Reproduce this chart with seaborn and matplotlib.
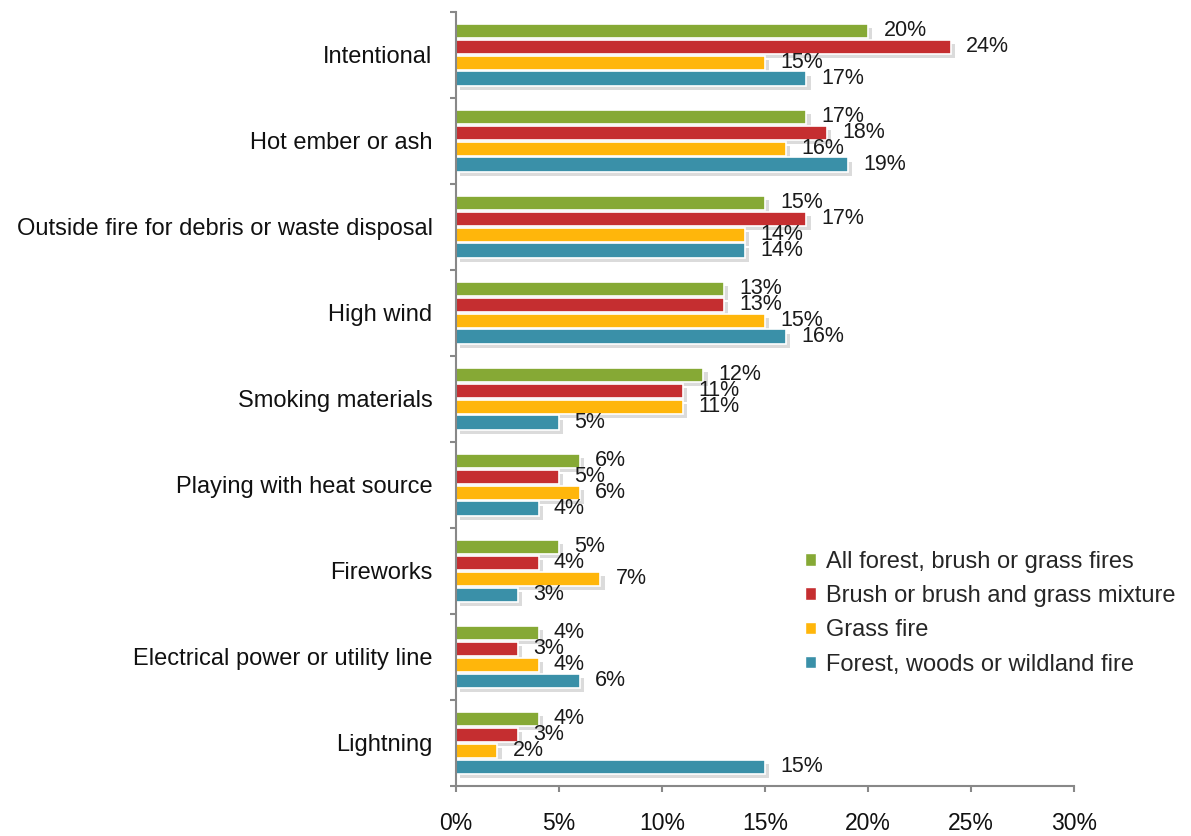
import numpy as np
import pandas as pd
import matplotlib
matplotlib.use("Agg")
import matplotlib.pyplot as plt
import matplotlib.patheffects as pe
from matplotlib.ticker import FixedLocator, PercentFormatter
import seaborn as sns

causes = ["Intentional", "Hot ember or ash", "Outside fire for debris or waste disposal",
          "High wind", "Smoking materials", "Playing with heat source", "Fireworks",
          "Electrical power or utility line", "Lightning"]
series = ["All forest, brush or grass fires", "Brush or brush and grass mixture",
          "Grass fire", "Forest, woods or wildland fire"]
all_fires = [20, 17, 15, 13, 12, 6, 5, 4, 4]
brush = [24, 18, 17, 13, 11, 5, 4, 3, 3]
grass = [15, 16, 14, 15, 11, 6, 7, 4, 2]
forest = [17, 19, 14, 16, 5, 4, 3, 6, 15]
colors = ["#86A935", "#C52E30", "#FFB60B", "#3A90A8"]

rows = []
for name, vals in zip(series, [all_fires, brush, grass, forest]):
    for c, v in zip(causes, vals):
        rows.append({"cause": c, "series": name, "pct": v})
df = pd.DataFrame(rows)

sns.set_style("white")
plt.rcParams["font.family"] = ["Liberation Sans", "DejaVu Sans"]

fig, ax = plt.subplots(figsize=(11.91, 8.36), dpi=100)
fig.subplots_adjust(left=0.383, right=0.902, top=0.986, bottom=0.06)

sns.barplot(data=df, y="cause", x="pct", hue="series", order=causes,
            hue_order=series, palette=colors, orient="h", width=0.74,
            saturation=1, ax=ax, errorbar=None)

shadow = [pe.SimplePatchShadow(offset=(3, -3), shadow_rgbFace="#888888", alpha=0.3),
          pe.Normal()]
for cont in ax.containers:
    for bar in cont:
        bar.set_edgecolor("white")
        bar.set_linewidth(1.2)
        bar.set_path_effects(shadow)
        # small gap between series bars
        h = bar.get_height()
        bar.set_y(bar.get_y() + h * 0.05)
        bar.set_height(h * 0.9)
    ax.bar_label(cont, labels=[f"{v:.0f}%" for v in cont.datavalues],
                 padding=11, fontsize=15.5, color="#1a1a1a")

ax.set_xlim(0, 30)
ax.set_ylim(len(causes) - 0.5, -0.5)
ax.xaxis.set_major_locator(FixedLocator([0, 5, 10, 15, 20, 25, 30]))
ax.xaxis.set_major_formatter(PercentFormatter(decimals=0))
ax.set_xlabel("")
ax.set_ylabel("")

ax.yaxis.set_minor_locator(FixedLocator(np.arange(-0.5, len(causes), 1)))
ax.tick_params(axis="y", which="major", length=0, labelsize=17, pad=17, labelcolor="#111111")
ax.tick_params(axis="y", which="minor", length=4.5, color="#888888", width=1.5, direction="out", left=True)
ax.tick_params(axis="x", which="major", length=4.5, color="#888888", width=1.5, direction="out",
               bottom=True, labelsize=16.5, pad=14, labelcolor="#111111")

for s in ["top", "right"]:
    ax.spines[s].set_visible(False)
for s in ["left", "bottom"]:
    ax.spines[s].set_color("#888888")
    ax.spines[s].set_linewidth(1.5)

ax.legend(loc="lower left", bbox_to_anchor=(0.530, 0.115), frameon=False, fontsize=17,
          handlelength=0.45, handleheight=0.45, handletextpad=0.45, labelspacing=0.52)

fig.savefig("out.png", dpi=100)
